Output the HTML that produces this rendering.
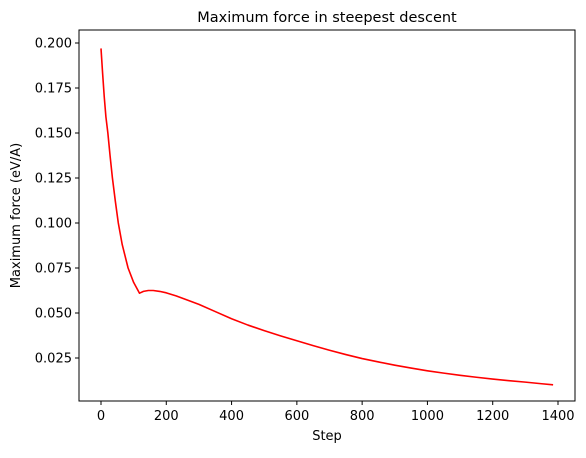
<!DOCTYPE html>
<html><head><meta charset="utf-8"><style>
body{margin:0;background:#fff;}
svg{font-family:"DejaVu Sans","Liberation Sans",sans-serif;}
</style></head><body>
<svg id="chart" width="586" height="453"></svg>
<script>
const steps=[0,5,10,15,21,28,35,44,53,65,83,100,118,130,145,160,180,200,230,260,300,350,400,450,500,550,600,650,700,750,800,850,900,950,1000,1050,1100,1150,1200,1250,1300,1350,1385];
const forces=[0.197,0.183,0.170,0.159,0.150,0.137,0.125,0.112,0.100,0.088,0.075,0.067,0.061,0.0620,0.0625,0.0625,0.0620,0.0612,0.0595,0.0575,0.0548,0.0508,0.0468,0.0433,0.0402,0.0373,0.0346,0.0319,0.0293,0.0269,0.0247,0.0228,0.0210,0.0194,0.0179,0.0166,0.0154,0.0143,0.0133,0.0124,0.0116,0.0107,0.0101];
const xTicks=[0,200,400,600,800,1000,1200,1400];
const yTicks=[0.025,0.050,0.075,0.100,0.125,0.150,0.175,0.200];
const yLabels=["0.025","0.050","0.075","0.100","0.125","0.150","0.175","0.200"];
const NS="http://www.w3.org/2000/svg";
const svg=document.getElementById('chart');
const L=79,R=575,T=30,B=401;
const xs=v=>101+v*(457/1400);
const ys=v=>358-(v-0.025)*(315/0.175);
function mk(tag,attrs,parent){const e=document.createElementNS(NS,tag);for(const k in attrs)e.setAttribute(k,attrs[k]);(parent||svg).appendChild(e);return e;}
const frame=mk('rect',{x:L,y:T,width:R-L,height:B-T,fill:'none',stroke:'#000','stroke-width':1});


xTicks.forEach(t=>{
  const x=xs(t);
  const l=mk('line',{x1:x,x2:x,y1:B,y2:B+4,stroke:'#000'});
  
  
  const tx=mk('text',{x:x,y:B+19,'text-anchor':'middle','font-size':13,fill:'#000'});
  tx.textContent=t;
  
  
});
yTicks.forEach((t,i)=>{
  const y=ys(t);
  const l=mk('line',{x1:L-4,x2:L,y1:y,y2:y,stroke:'#000'});
  
  
  const tx=mk('text',{x:L-7,y:y+4.5,'text-anchor':'end','font-size':13,fill:'#000'});
  tx.textContent=yLabels[i];
  
  
});
const d=steps.map((s,i)=>(i?'L':'M')+xs(s).toFixed(2)+','+ys(forces[i]).toFixed(2)).join(' ');
const p=mk('path',{d:d,fill:'none',stroke:'#ff0000','stroke-width':1.6,'stroke-linejoin':'round'});


const title=mk('text',{x:(L+R)/2,y:22,'text-anchor':'middle','font-size':14.5,fill:'#000'});
title.textContent='Maximum force in steepest descent';


const xl=mk('text',{x:(L+R)/2,y:440,'text-anchor':'middle','font-size':13,fill:'#000'});
xl.textContent='Step';


const yl=mk('text',{x:0,y:0,'text-anchor':'middle','font-size':13,fill:'#000',transform:'translate(20,'+((T+B)/2)+') rotate(-90)'});
yl.textContent='Maximum force (eV/A)';


</script>
</body></html>
